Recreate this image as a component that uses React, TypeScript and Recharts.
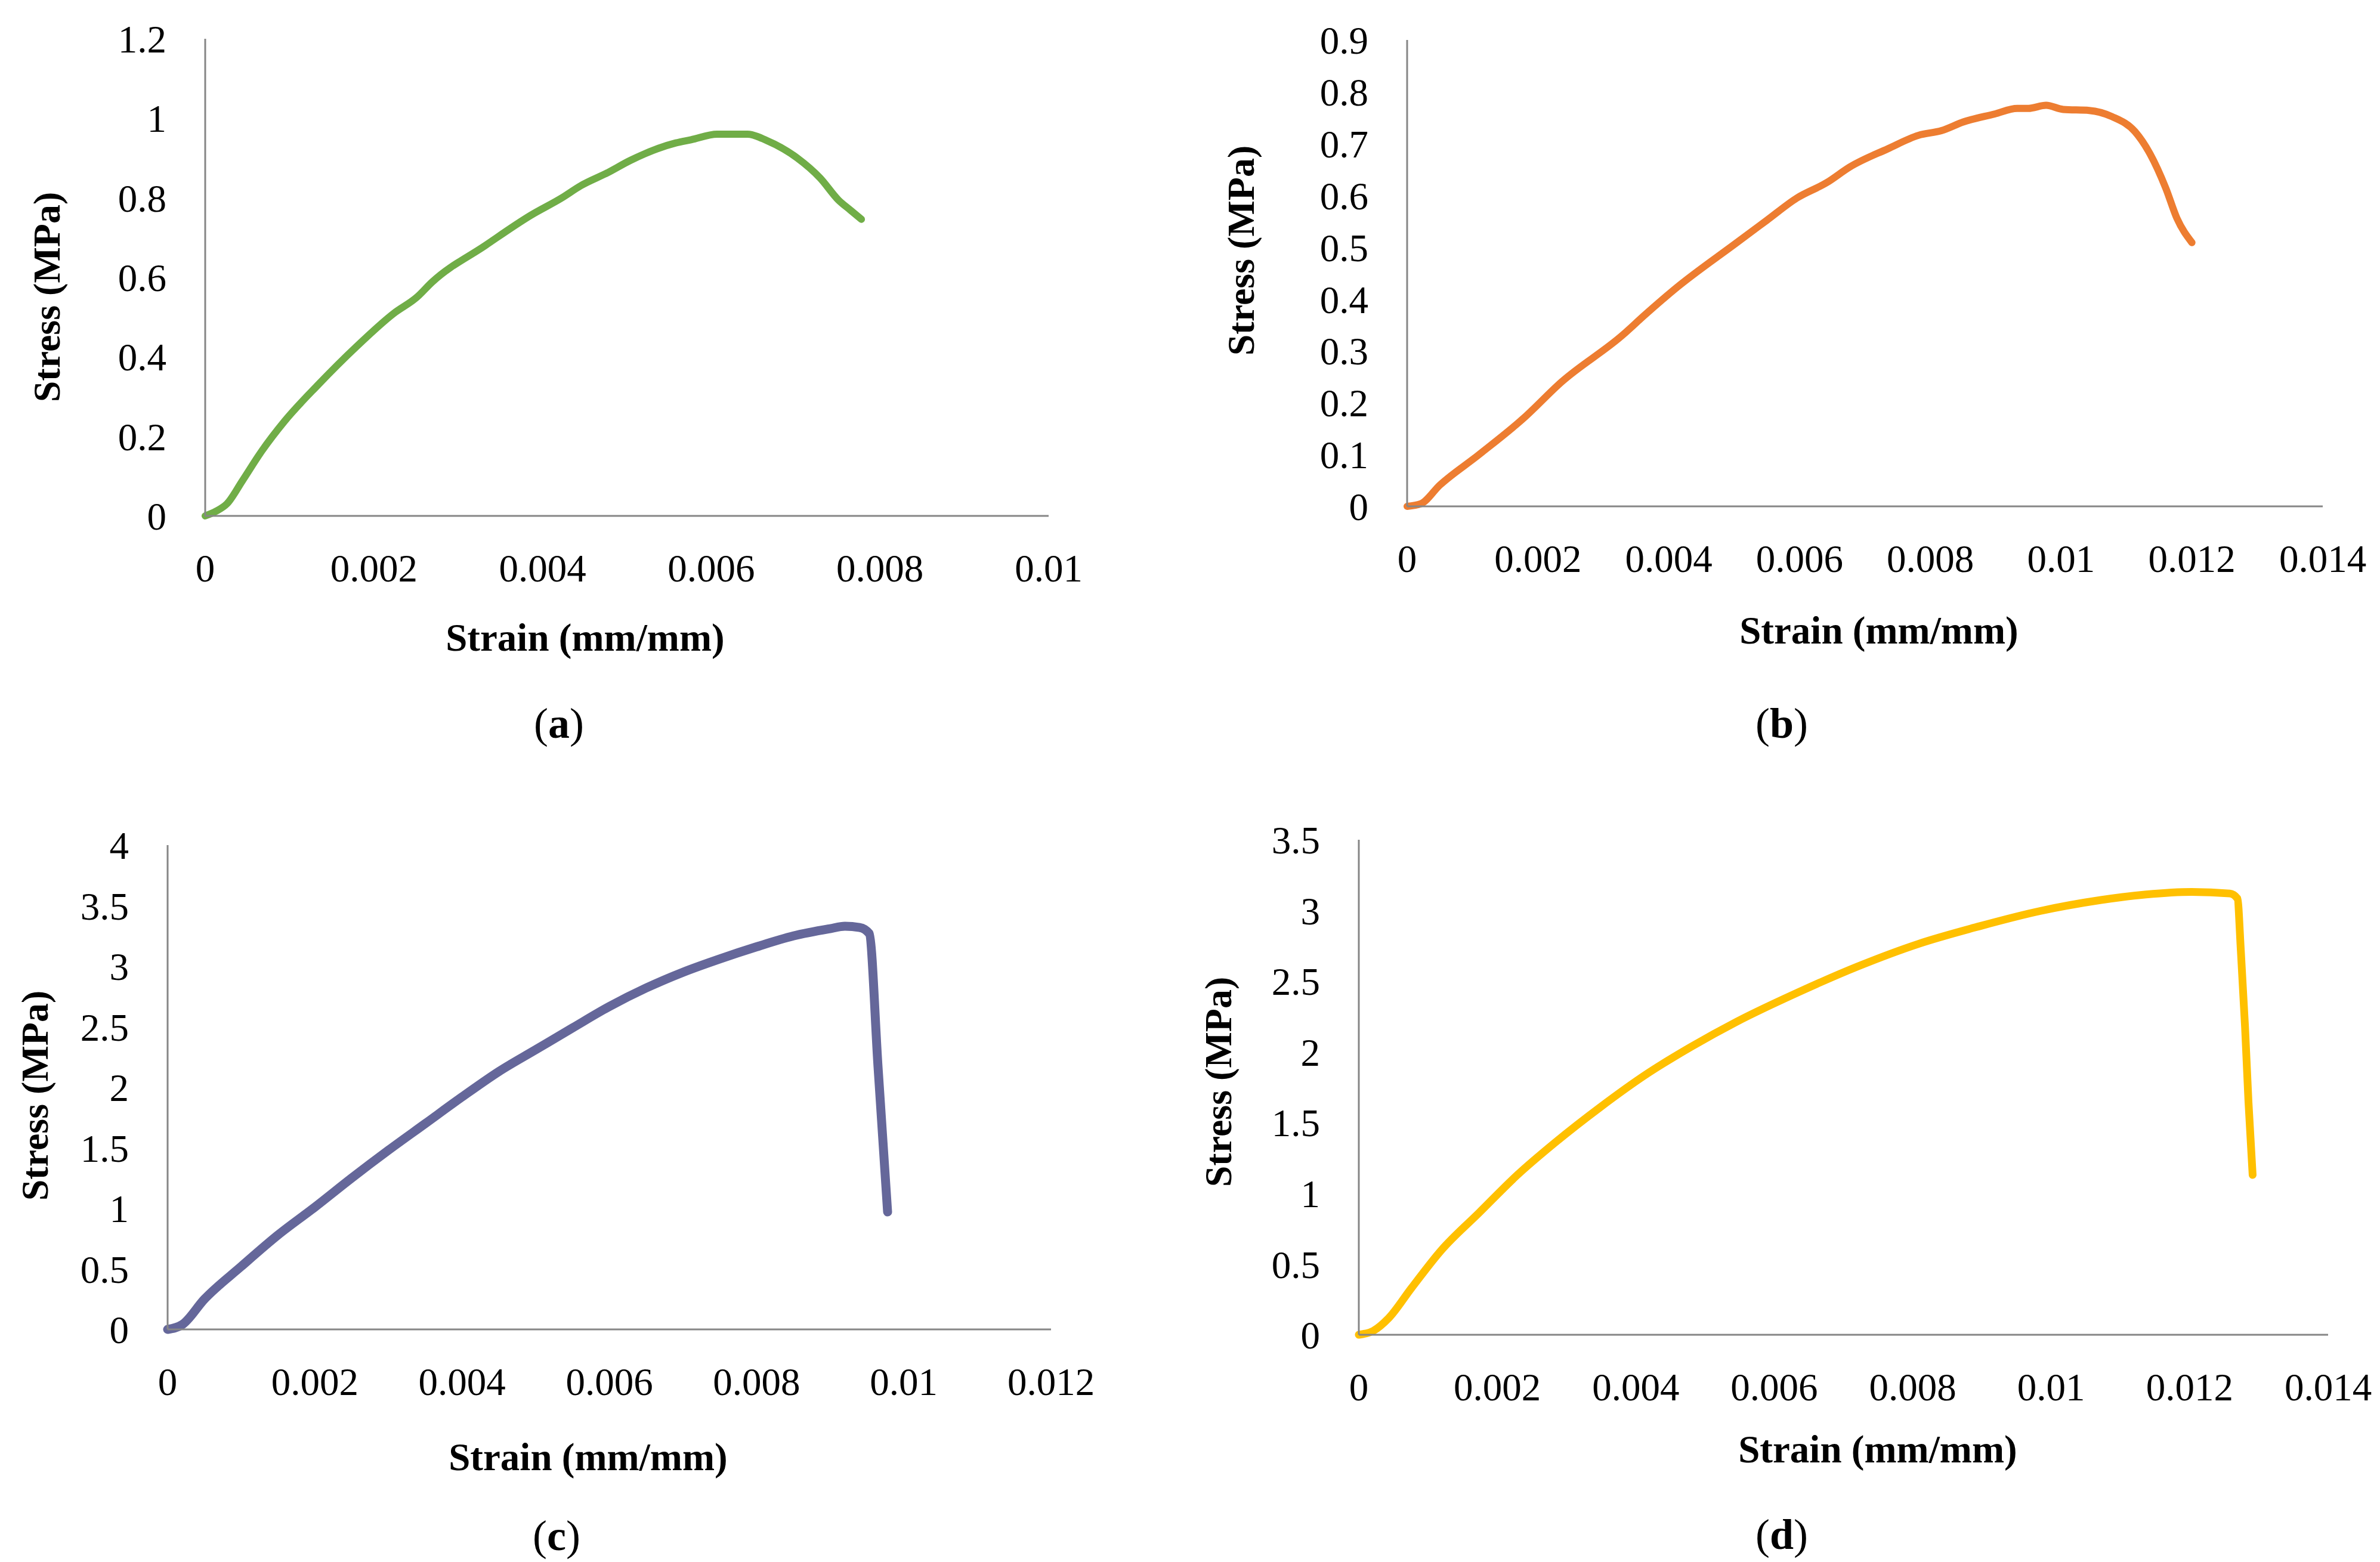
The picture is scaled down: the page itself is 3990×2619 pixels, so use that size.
import React from "react";
import { LineChart, Line, XAxis, YAxis, Label } from "recharts";

// strain (mm/mm) / stress (MPa)
const strainA = [0, 0.00013, 0.00026, 0.00044, 0.00067, 0.00094, 0.00134, 0.00179, 0.00224, 0.00251, 0.00269, 0.00332, 0.00386, 0.00423, 0.00445, 0.00477, 0.00504, 0.00558, 0.00576, 0.00607, 0.00643, 0.00666, 0.00702, 0.00729, 0.00751, 0.00765, 0.00778];
const stressA = [0, 0.012, 0.031, 0.088, 0.163, 0.238, 0.33, 0.425, 0.51, 0.55, 0.588, 0.68, 0.756, 0.8, 0.83, 0.863, 0.894, 0.938, 0.946, 0.96, 0.96, 0.944, 0.9, 0.85, 0.794, 0.769, 0.746];

const strainB = [0, 0.00021, 0.0005, 0.00108, 0.00178, 0.00236, 0.00329, 0.00364, 0.0041, 0.00503, 0.0055, 0.00596, 0.00642, 0.00677, 0.00735, 0.00782, 0.00817, 0.00851, 0.00898, 0.00933, 0.0095, 0.00977, 0.01003, 0.01043, 0.01078, 0.01113, 0.01136, 0.0116, 0.01177, 0.012];
const stressB = [0, 0.005, 0.041, 0.098, 0.17, 0.24, 0.33, 0.37, 0.42, 0.508, 0.552, 0.595, 0.625, 0.655, 0.69, 0.716, 0.725, 0.742, 0.757, 0.768, 0.768, 0.774, 0.766, 0.764, 0.752, 0.723, 0.68, 0.614, 0.556, 0.509];

const strainC = [0, 0.0002, 0.0005, 0.001, 0.0015, 0.002, 0.0025, 0.003, 0.0035, 0.004, 0.0045, 0.005, 0.0055, 0.006, 0.0065, 0.007, 0.0075, 0.008, 0.0085, 0.009, 0.0092, 0.0094, 0.00953, 0.00965, 0.00978];
const stressC = [0, 0.04, 0.25, 0.52, 0.78, 1.01, 1.25, 1.48, 1.7, 1.92, 2.13, 2.31, 2.49, 2.667, 2.82, 2.95, 3.06, 3.16, 3.25, 3.31, 3.33, 3.32, 3.27, 2.17, 0.97];

const strainD = [0, 0.00021, 0.00043, 0.00076, 0.00119, 0.00174, 0.00229, 0.00284, 0.00349, 0.00415, 0.0048, 0.00546, 0.00634, 0.00721, 0.00809, 0.00897, 0.00984, 0.01072, 0.01137, 0.01203, 0.01258, 0.01269, 0.01274, 0.0128, 0.01285, 0.01291];
const stressD = [0, 0.028, 0.117, 0.33, 0.597, 0.864, 1.13, 1.361, 1.61, 1.841, 2.036, 2.214, 2.42, 2.605, 2.765, 2.889, 2.996, 3.074, 3.113, 3.131, 3.12, 3.085, 2.712, 2.178, 1.645, 1.13];

const xTicks10 = [0, 0.002, 0.004, 0.006, 0.008, 0.01];
const xTicks12 = [0, 0.002, 0.004, 0.006, 0.008, 0.01, 0.012];
const xTicks14 = [0, 0.002, 0.004, 0.006, 0.008, 0.01, 0.012, 0.014];
const yTicksA = [0, 0.2, 0.4, 0.6, 0.8, 1, 1.2];
const yTicksB = [0, 0.1, 0.2, 0.3, 0.4, 0.5, 0.6, 0.7, 0.8, 0.9];
const yTicksC = [0, 0.5, 1, 1.5, 2, 2.5, 3, 3.5, 4];
const yTicksD = [0, 0.5, 1, 1.5, 2, 2.5, 3, 3.5];

const xTitle = "Strain (mm/mm)";
const yTitle = "Stress (MPa)";

const FONT = "'Liberation Serif', 'Times New Roman', serif";
const AXIS = "#868686";
const YW = 220;
const XH = 150;

const zip = (xs: number[], ys: number[]) => xs.map((x, i) => ({ x, y: ys[i] }));

// page-coordinate layout of each panel
const panels = [
  { key: "a", data: zip(strainA, stressA), xTicks: xTicks10, yTicks: yTicksA, color: "#70AD47", sw: 12,
    box: [0, 0, 1995, 1300], plot: [344, 65, 1758, 865], yt: [78, 498], xt: [981, 1069], lt: [937, 1213] },
  { key: "b", data: zip(strainB, stressB), xTicks: xTicks14, yTicks: yTicksB, color: "#ED7D31", sw: 12,
    box: [1995, 0, 1995, 1300], plot: [2359, 67, 3894, 849], yt: [2080, 420], xt: [3150, 1057], lt: [2987, 1213] },
  { key: "c", data: zip(strainC, stressC), xTicks: xTicks12, yTicks: yTicksC, color: "#65679A", sw: 15,
    box: [0, 1300, 1995, 1319], plot: [281, 1417, 1762, 2229], yt: [58, 1837], xt: [986, 2443], lt: [933, 2575] },
  { key: "d", data: zip(strainD, stressD), xTicks: xTicks14, yTicks: yTicksD, color: "#FFC000", sw: 13,
    box: [1995, 1300, 1995, 1319], plot: [2278, 1408, 3903, 2238], yt: [2042, 1814], xt: [3148, 2430], lt: [2987, 2573] },
];

const tickStyle = { fill: "#000", fontSize: 65, fontFamily: FONT };

function Panel({ p }: { p: (typeof panels)[number] }) {
  const [ox, oy, w, h] = p.box;
  const [L, T, R, B] = p.plot;
  const margin = { left: L - ox - YW, top: T - oy, right: ox + w - R, bottom: oy + h - B - XH };
  const ymax = p.yTicks[p.yTicks.length - 1];
  const xmax = p.xTicks[p.xTicks.length - 1];
  const ytx = p.yt[0] - ox, yty = p.yt[1] - oy;

  return (
    <div style={{ position: "absolute", left: ox, top: oy, width: w, height: h }}>
      <LineChart width={w} height={h} data={p.data} margin={margin}>
        <XAxis
          type="number"
          dataKey="x"
          domain={[0, xmax]}
          ticks={p.xTicks}
          interval={0}
          height={XH}
          tickLine={false}
          tickSize={0}
          tickMargin={64}
          axisLine={{ stroke: AXIS, strokeWidth: 3 }}
          tick={tickStyle}
          tickFormatter={(v: number) => String(v)}
        >
          <Label
            content={() => (
              <g fontFamily={FONT} fill="#000">
                <text x={p.xt[0] - ox} y={p.xt[1] - oy} textAnchor="middle" dominantBaseline="central" fontSize={65} fontWeight={700}>
                  {xTitle}
                </text>
                <text x={p.lt[0] - ox} y={p.lt[1] - oy} textAnchor="middle" dominantBaseline="central" fontSize={72}>
                  (<tspan fontWeight={700}>{p.key}</tspan>)
                </text>
              </g>
            )}
          />
        </XAxis>
        <YAxis
          type="number"
          domain={[0, ymax]}
          ticks={p.yTicks}
          interval={0}
          width={YW}
          tickLine={false}
          tickSize={0}
          tickMargin={65}
          axisLine={{ stroke: AXIS, strokeWidth: 3 }}
          tick={tickStyle}
          tickFormatter={(v: number) => String(v)}
        >
          <Label
            content={() => (
              <text
                x={ytx}
                y={yty}
                transform={`rotate(-90 ${ytx} ${yty})`}
                textAnchor="middle"
                dominantBaseline="central"
                fontFamily={FONT}
                fontSize={64}
                fontWeight={700}
                fill="#000"
              >
                {yTitle}
              </text>
            )}
          />
        </YAxis>
        <Line
          type="monotone"
          dataKey="y"
          stroke={p.color}
          strokeWidth={p.sw}
          strokeLinecap="round"
          strokeLinejoin="round"
          dot={false}
          activeDot={false}
          isAnimationActive={false}
        />
      </LineChart>
    </div>
  );
}

export default function App() {
  return (
    <div style={{ position: "absolute", left: 0, top: 0, width: 3990, height: 2619, background: "#fff" }}>
      {panels.map((p) => (
        <Panel key={p.key} p={p} />
      ))}
    </div>
  );
}
